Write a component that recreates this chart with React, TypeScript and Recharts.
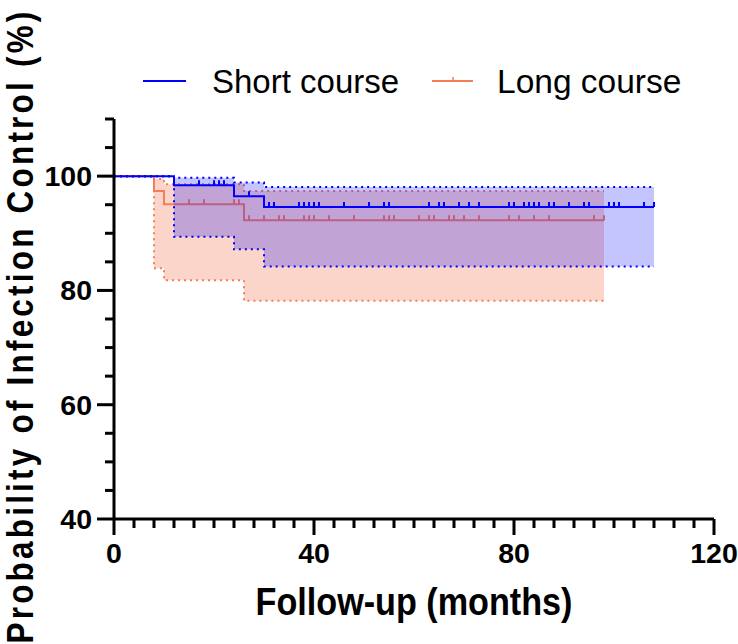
import React from 'react';
import { ComposedChart, Area, Line, Scatter, XAxis, YAxis, Legend } from 'recharts';

// Kaplan-Meier step points (months) and estimates (%)
const shortTimes = [0, 12, 24, 30, 108];
const shortSurv = [100, 98.4, 96.5, 94.6, 94.6];
const shortLower = [100, 89.4, 87.2, 84.2, 84.2];
const shortUpper = [100, 99.7, 98.9, 98.1, 98.1];
const shortCensored = [17, 20, 21, 22, 27, 31, 32, 37, 38, 39, 40, 41, 46, 51, 54, 55, 63, 65, 66, 69, 71, 73, 79, 80, 82, 83, 84, 85, 87, 88, 91, 94, 95, 99, 100, 101, 106, 108];

const longTimes = [0, 8, 10, 26, 98];
const longSurv = [100, 97.4, 95.1, 92.3, 92.3];
const longLower = [100, 83.9, 81.8, 78.2, 78.2];
const longUpper = [100, 99.5, 98.6, 97.4, 97.4];
const longCensored = [15, 18, 24, 25, 27, 30, 33, 34, 38, 39, 40, 43, 48, 54, 55, 56, 61, 63, 64, 67, 68, 70, 73, 79, 81, 84, 87, 96, 98];

const xTicks = [0, 4, 8, 12, 16, 20, 24, 28, 32, 36, 40, 44, 48, 52, 56, 60, 64, 68, 72, 76, 80, 84, 88, 92, 96, 100, 104, 108, 112, 116, 120];
const yTicks = [40, 45, 50, 55, 60, 65, 70, 75, 80, 85, 90, 95, 100, 105, 110];
const xMajor = [0, 40, 80, 120];
const yMajor = [40, 60, 80, 100];

const SHORT_COLOR = '#0000ff';
const LONG_COLOR = '#f47e5a';
const FONT = '"Liberation Sans", Arial, Helvetica, sans-serif';

const stepValue = (times: number[], vals: number[], t: number) => {
  let v = vals[0];
  for (let i = 0; i < times.length; i++) if (times[i] <= t) v = vals[i];
  return v;
};

const shortData = shortTimes.map((t, i) => ({ t, s: shortSurv[i], ci: [shortLower[i], shortUpper[i]] }));
const longData = longTimes.map((t, i) => ({ t, s: longSurv[i], ci: [longLower[i], longUpper[i]] }));
const shortCens = shortCensored.map((t) => ({ t, s: stepValue(shortTimes, shortSurv, t) }));
const longCens = longCensored.map((t) => ({ t, s: stepValue(longTimes, longSurv, t) }));

const censorShape = (color: string) => (props: any) => {
  const { cx, cy } = props;
  if (cx == null || cy == null) return <g />;
  return <line x1={cx} x2={cx} y1={cy} y2={cy - 5} stroke={color} strokeWidth={2} />;
};

const XTick = (props: any) => {
  const { x, y, payload } = props;
  const major = xMajor.includes(payload.value);
  return (
    <g>
      <line x1={x} x2={x} y1={y} y2={y + (major ? 16 : 9)} stroke="#000" strokeWidth={3} />
      {major && (
        <text x={x} y={y + 44} textAnchor="middle" fontFamily={FONT} fontWeight="bold" fontSize={28.5} fill="#000">
          {payload.value}
        </text>
      )}
    </g>
  );
};

const YTick = (props: any) => {
  const { x, y, payload } = props;
  const major = yMajor.includes(payload.value);
  return (
    <g>
      <line x1={x} x2={x - (major ? 17 : 9)} y1={y} y2={y} stroke="#000" strokeWidth={3} />
      {major && (
        <text x={x - 22} y={y + 10} textAnchor="end" fontFamily={FONT} fontWeight="bold" fontSize={28.5} fill="#000">
          {payload.value}
        </text>
      )}
    </g>
  );
};

const LegendContent = () => (
  <svg width={738} height={50} style={{ display: 'block' }}>
    <line x1={143} x2={186} y1={26} y2={26} stroke={SHORT_COLOR} strokeWidth={2} />
    <text x={212} y={38} fontFamily={FONT} fontSize={33} fill="#000">Short course</text>
    <line x1={432} x2={473} y1={26} y2={26} stroke={LONG_COLOR} strokeWidth={2} />
    <line x1={453} x2={453} y1={26} y2={22} stroke={LONG_COLOR} strokeWidth={1.5} />
    <text x={497} y={38} fontFamily={FONT} fontSize={33.5} fill="#000">Long course</text>
  </svg>
);

export default function App() {
  return (
    <div style={{ position: 'absolute', left: 0, top: 0 }}>
      <ComposedChart width={738} height={644} margin={{ top: 119, right: 24, left: 0, bottom: 0 }}>
        <XAxis
          dataKey="t"
          type="number"
          domain={[0, 120]}
          ticks={xTicks}
          interval={0}
          tickSize={0}
          tickMargin={0}
          tickLine={false}
          tick={<XTick />}
          height={125}
          axisLine={{ stroke: '#000', strokeWidth: 3 }}
          allowDataOverflow
          label={{
            content: () => (
              <text
                transform="translate(414,615) scale(0.9,1)"
                x={0}
                y={0}
                textAnchor="middle"
                fontFamily={FONT}
                fontWeight="bold"
                fontSize={38}
                fill="#000"
              >
                Follow-up (months)
              </text>
            ),
          }}
        />
        <YAxis
          type="number"
          domain={[40, 110]}
          ticks={yTicks}
          interval={0}
          tickSize={0}
          tickMargin={0}
          tickLine={false}
          tick={<YTick />}
          width={114}
          axisLine={{ stroke: '#000', strokeWidth: 3 }}
          allowDataOverflow
          label={{
            content: () => (
              <text
                transform="translate(33,326) rotate(-90) scale(0.85,1)"
                x={0}
                y={0}
                textAnchor="middle"
                fontFamily={FONT}
                fontWeight="bold"
                fontSize={37}
                letterSpacing={3.8}
                fill="#000"
              >
                Probability of Infection Control (%)
              </text>
            ),
          }}
        />
        <Legend
          layout="horizontal"
          verticalAlign="middle"
          align="center"
          wrapperStyle={{ top: 55, left: 0, width: 738, height: 50 }}
          content={<LegendContent />}
        />
        <Area
          data={longData}
          dataKey="ci"
          type="stepAfter"
          fill={LONG_COLOR}
          fillOpacity={0.33}
          stroke={LONG_COLOR}
          strokeWidth={2}
          strokeDasharray="2 4"
          isAnimationActive={false}
          zIndex={100}
        />
        <Line
          data={longData}
          dataKey="s"
          type="stepAfter"
          stroke={LONG_COLOR}
          strokeWidth={2}
          dot={false}
          isAnimationActive={false}
          zIndex={101}
        />
        <Scatter data={longCens} dataKey="s" shape={censorShape(LONG_COLOR)} isAnimationActive={false} zIndex={102} />
        <Area
          data={shortData}
          dataKey="ci"
          type="stepAfter"
          fill={SHORT_COLOR}
          fillOpacity={0.23}
          stroke={SHORT_COLOR}
          strokeWidth={2}
          strokeDasharray="2 4"
          isAnimationActive={false}
          zIndex={103}
        />
        <Line
          data={shortData}
          dataKey="s"
          type="stepAfter"
          stroke={SHORT_COLOR}
          strokeWidth={2}
          dot={false}
          isAnimationActive={false}
          zIndex={104}
        />
        <Scatter data={shortCens} dataKey="s" shape={censorShape(SHORT_COLOR)} isAnimationActive={false} zIndex={105} />
      </ComposedChart>
    </div>
  );
}
